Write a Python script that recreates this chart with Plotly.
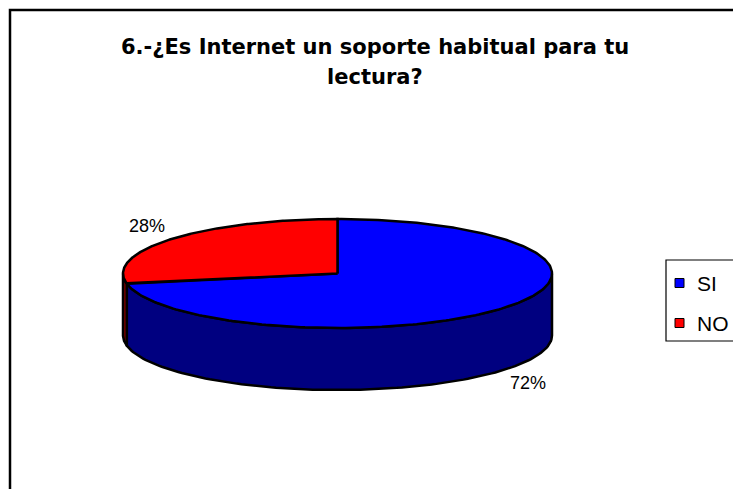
import numpy as np
import plotly.graph_objects as go

# ---- data ----
categories = ["SI", "NO"]
values = [72, 28]
top_colors = ["#0000FF", "#FF0000"]
side_colors = ["#000080", "#800000"]
title_lines = ["6.-¿Es Internet un soporte habitual para tu", "lectura?"]

W, H = 733, 489
cx, cy, rx, ry, depth = 337.5, 273.5, 214.5, 54.5, 62
FONT = "Liberation Sans, Arial, sans-serif"

def pt(a_deg, dy=0.0):
    a = np.radians(a_deg)
    return cx + rx * np.cos(a), cy - ry * np.sin(a) + dy

fig = go.Figure()
total = float(sum(values))

# slice angles (clockwise from 12 o'clock)
slices = []
start = 90.0
for v in values:
    end = start - v / total * 360.0
    slices.append((end, start))
    start = end

# side walls (visible front half)
for (lo, hi), col in zip(slices, side_colors):
    for k in (-1, 0, 1):
        vlo, vhi = -180 + 360 * k, 0 + 360 * k
        s, e = max(lo, vlo), min(hi, vhi)
        if e > s:
            angs = np.linspace(s, e, 120)
            xs_t, ys_t = zip(*[pt(a) for a in angs])
            xs_b, ys_b = zip(*[pt(a, depth) for a in angs[::-1]])
            xs = list(xs_t) + list(xs_b) + [xs_t[0]]
            ys = list(ys_t) + list(ys_b) + [ys_t[0]]
            fig.add_trace(go.Scatter(x=xs, y=ys, mode="lines", fill="toself",
                                     fillcolor=col, line=dict(color="black", width=2.5),
                                     hoverinfo="skip", showlegend=False))

# top wedges
for (lo, hi), col in zip(slices, top_colors):
    angs = np.linspace(hi, lo, 240)
    xs = [cx] + [pt(a)[0] for a in angs] + [cx]
    ys = [cy] + [pt(a)[1] for a in angs] + [cy]
    fig.add_trace(go.Scatter(x=xs, y=ys, mode="lines", fill="toself",
                             fillcolor=col, line=dict(color="black", width=2.5),
                             hoverinfo="skip", showlegend=False))

# percentage labels
for (lo, hi), v in zip(slices, values):
    mid = np.radians((lo + hi) / 2)
    lx = cx + 1.15 * rx * np.cos(mid)
    ly = cy - 1.37 * ry * np.sin(mid) + (depth if np.sin(mid) < 0 else 0)
    fig.add_annotation(x=lx, y=ly, text=f"{v}%", showarrow=False,
                       font=dict(family=FONT, size=18, color="#000000"))

# title
for i, line in enumerate(title_lines):
    fig.add_annotation(x=375, y=47 + 30 * i, text=f"<b>{line}</b>", showarrow=False,
                       font=dict(family="DejaVu Sans, sans-serif", size=21, color="black"))

shapes = [
    dict(type="rect", x0=10, y0=10, x1=W + 20, y1=H + 20, line=dict(color="black", width=2.5)),
    dict(type="rect", x0=666, y0=260, x1=W + 20, y1=341, line=dict(color="black", width=1.2)),
]
# legend
for i, (cat, col) in enumerate(zip(categories, top_colors)):
    yc = 283 + i * 40
    shapes.append(dict(type="rect", x0=675, y0=yc - 4.5, x1=684, y1=yc + 4.5,
                       fillcolor=col, line=dict(color="black", width=1)))
    fig.add_annotation(x=695, y=yc, text=cat, showarrow=False, xanchor="left",
                       font=dict(family=FONT, size=21, color="black"))

fig.update_layout(
    width=W, height=H, margin=dict(l=0, r=0, t=0, b=0),
    paper_bgcolor="white", plot_bgcolor="white",
    xaxis=dict(range=[0, W], visible=False, fixedrange=True),
    yaxis=dict(range=[H, 0], visible=False, fixedrange=True),
    shapes=shapes, showlegend=False,
)

fig.write_html("out.html", config={"displayModeBar": False},
               post_script="document.body.style.margin='0';document.body.style.overflow='hidden';")
